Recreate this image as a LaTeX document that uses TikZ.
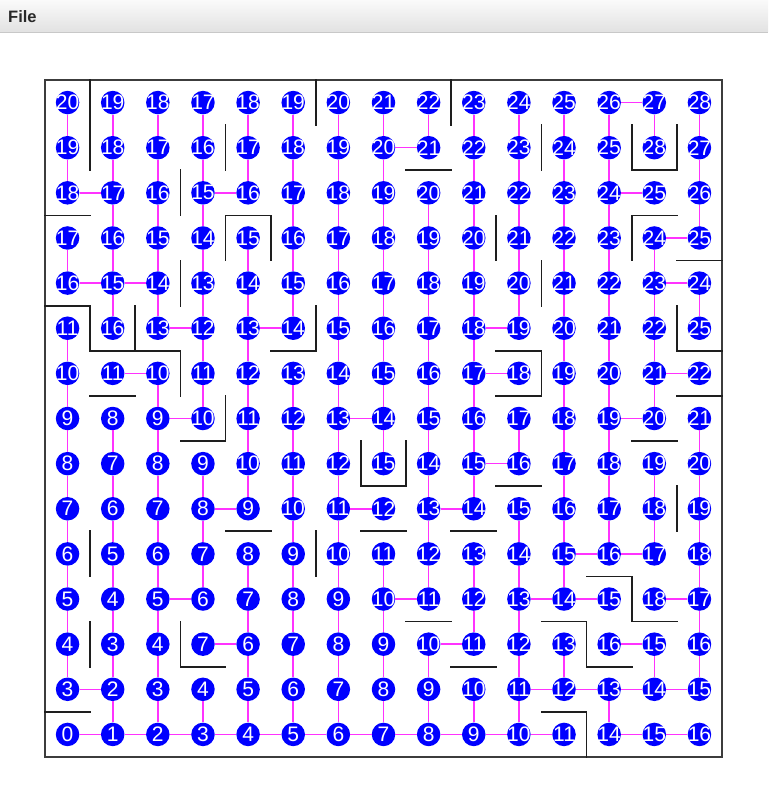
\documentclass[tikz,border=0pt]{standalone}
\usepackage{fontspec}
\setmainfont{Liberation Sans}
\definecolor{nodeblue}{RGB}{0,0,255}
\definecolor{linkpink}{RGB}{255,50,255}
\definecolor{wallgray}{RGB}{30,30,30}
\definecolor{framegray}{RGB}{60,60,60}
\definecolor{menutop}{RGB}{250,250,250}
\definecolor{menubot}{RGB}{226,226,226}
\definecolor{menuline}{RGB}{200,200,200}
\definecolor{menutext}{RGB}{40,40,40}
\newcommand\vedges[2]{\foreach \r in {#2}{\pgfmathtruncatemacro\rr{\r+1}\draw[link] (n\r-#1) -- (n\rr-#1);}}
\newcommand\hedges[2]{\foreach \c in {#2}{\pgfmathtruncatemacro\cc{\c+1}\draw[link] (n#1-\c) -- (n#1-\cc);}}
\newcommand\vw[3]{\draw[wall] (#1,#2) -- (#1,#3);}
\newcommand\hw[3]{\draw[wall] (#2,#1) -- (#3,#1);}
\begin{document}
\begin{tikzpicture}[x=1pt,y=-1pt,
  cell/.style={circle,fill=nodeblue,minimum size=23.5pt,inner sep=0pt,text=white,font=\fontsize{21}{21}\selectfont},
  link/.style={draw=linkpink,line width=1.6pt},
  wall/.style={draw=wallgray,line width=1.7pt,line cap=rect},
  frame/.style={draw=framegray,line width=1.4pt}]
\fill[white] (0,0) rectangle (768,802);
\useasboundingbox (0,0) rectangle (768,802);
\shade[top color=menutop,bottom color=menubot] (0,0) rectangle (768,32);
\draw[menuline,line width=1.2pt] (0,32.6) -- (768,32.6);
\node[anchor=west,inner sep=0pt,text=menutext,font=\bfseries\fontsize{16.5}{16.5}\selectfont] (menu) at (8,16.5) {File};
\begin{scope}[shift={(45,80)},x=45.133pt,y=-45.133pt]
\draw[frame] (0,0) rectangle (15,15);
\foreach \vals [count=\r from 0] in {
 {20,19,18,17,18,19,20,21,22,23,24,25,26,27,28},
 {19,18,17,16,17,18,19,20,21,22,23,24,25,28,27},
 {18,17,16,15,16,17,18,19,20,21,22,23,24,25,26},
 {17,16,15,14,15,16,17,18,19,20,21,22,23,24,25},
 {16,15,14,13,14,15,16,17,18,19,20,21,22,23,24},
 {11,16,13,12,13,14,15,16,17,18,19,20,21,22,25},
 {10,11,10,11,12,13,14,15,16,17,18,19,20,21,22},
 {9,8,9,10,11,12,13,14,15,16,17,18,19,20,21},
 {8,7,8,9,10,11,12,15,14,15,16,17,18,19,20},
 {7,6,7,8,9,10,11,12,13,14,15,16,17,18,19},
 {6,5,6,7,8,9,10,11,12,13,14,15,16,17,18},
 {5,4,5,6,7,8,9,10,11,12,13,14,15,18,17},
 {4,3,4,7,6,7,8,9,10,11,12,13,16,15,16},
 {3,2,3,4,5,6,7,8,9,10,11,12,13,14,15},
 {0,1,2,3,4,5,6,7,8,9,10,11,14,15,16}}
{\foreach \v [count=\c from 0] in \vals {\node[cell] (n\r-\c) at (\c+0.5,\r+0.5) {\makebox[0pt]{\v}};}}
% tree edges: vertical
\vedges{0}{0,1,3,5,6,7,8,9,10,11,12}
\vedges{1}{0,1,2,3,4,7,8,9,10,11,12,13}
\vedges{2}{0,1,2,3,4,6,7,8,9,10,11,12,13}
\vedges{3}{0,1,2,3,4,5,6,8,9,10,13}
\vedges{4}{0,1,3,4,5,6,7,8,10,11,12,13}
\vedges{5}{0,1,2,3,4,6,7,8,9,10,11,12,13}
\vedges{6}{0,...,13}
\vedges{7}{0,1,2,3,4,5,6,7,10,11,12,13}
\vedges{8}{0,2,3,4,5,6,7,8,9,10,12,13}
\vedges{9}{0,1,2,3,4,5,6,7,8,10,11,13}
\vedges{10}{0,1,2,3,4,7,9,10,11,12,13}
\vedges{11}{0,1,2,3,4,5,6,7,8,9,10,12}
\vedges{12}{0,1,2,3,4,5,6,7,8,9,13}
\vedges{13}{0,3,4,5,6,8,9,12}
\vedges{14}{0,1,2,4,7,8,9,10,11,12}
% tree edges: horizontal
\hedges{0}{12}
\hedges{1}{7}
\hedges{2}{0,3,12}
\hedges{3}{13}
\hedges{4}{0,1,13}
\hedges{5}{2,4,9}
\hedges{6}{1,9,13}
\hedges{7}{2,6,12}
\hedges{8}{9}
\hedges{9}{3,6,8}
\hedges{10}{11,12}
\hedges{11}{2,7,10,11,13}
\hedges{12}{3,8,12}
\hedges{13}{0,10,11,12,13}
\hedges{14}{0,...,10,12,13}
% walls: vertical (x, y1, y2)
\vw{1}{0}{2}
\vw{3}{2}{3}
\vw{4}{1}{2}
\vw{4}{3}{4}
\vw{5}{3}{4}
\vw{3}{4}{5}
\vw{1}{5}{6}
\vw{2}{5}{6}
\vw{3}{6}{7}
\vw{4}{7}{8}
\vw{6}{5}{6}
\vw{7}{8}{9}
\vw{8}{8}{9}
\vw{1}{10}{11}
\vw{1}{12}{13}
\vw{3}{12}{13}
\vw{6}{10}{11}
\vw{9}{0}{1}
\vw{6}{0}{1}
\vw{10}{3}{4}
\vw{11}{1}{2}
\vw{13}{1}{2}
\vw{14}{1}{2}
\vw{13}{3}{4}
\vw{11}{4}{5}
\vw{14}{5}{6}
\vw{11}{6}{7}
\vw{14}{9}{10}
\vw{13}{11}{12}
\vw{12}{12}{13}
\vw{12}{14}{15}
% walls: horizontal (y, x1, x2)
\hw{3}{0}{1}
\hw{3}{4}{5}
\hw{5}{0}{1}
\hw{6}{1}{3}
\hw{7}{1}{2}
\hw{8}{3}{4}
\hw{6}{5}{6}
\hw{9}{7}{8}
\hw{10}{4}{5}
\hw{10}{7}{8}
\hw{10}{9}{10}
\hw{13}{3}{4}
\hw{14}{0}{1}
\hw{2}{8}{9}
\hw{2}{13}{14}
\hw{3}{13}{14}
\hw{4}{14}{15}
\hw{6}{14}{15}
\hw{7}{14}{15}
\hw{6}{10}{11}
\hw{7}{10}{11}
\hw{8}{13}{14}
\hw{9}{10}{11}
\hw{12}{8}{9}
\hw{13}{9}{10}
\hw{11}{12}{13}
\hw{12}{13}{14}
\hw{12}{11}{12}
\hw{13}{12}{13}
\hw{14}{11}{12}
\end{scope}
\end{tikzpicture}
\end{document}
